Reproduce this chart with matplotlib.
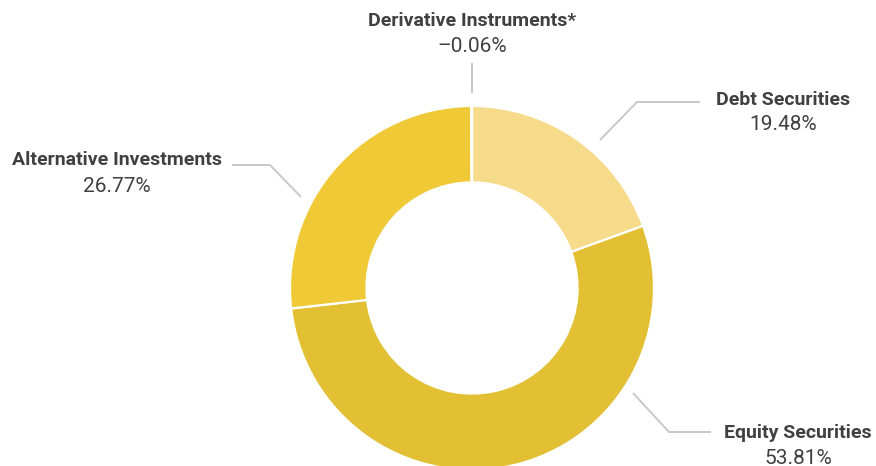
import matplotlib
matplotlib.use("Agg")
import matplotlib.pyplot as plt

# data
categories = ["Debt Securities", "Equity Securities", "Alternative Investments", "Derivative Instruments*"]
values = [19.48, 53.81, 26.77, -0.06]
value_labels = ["19.48%", "53.81%", "26.77%", "\u20130.06%"]
colors = ["#F6DB8B", "#E3BF33", "#F0C936", "#F0C936"]

# label layout in pixel coords (text centre x, title y, value y) and leader polylines
label_pos = [(783, 100, 125), (798, 433, 458), (117, 160, 186), (472, 21, 46)]
leaders = [
    [(600, 140), (637, 102), (700, 102)],
    [(633, 393), (669, 432), (711, 432)],
    [(301, 197), (270, 165), (232, 165)],
    [(472, 63), (472, 93)],
]

W, H = 876, 466
cx, cy, r = 472, 288, 182

fig = plt.figure(figsize=(W / 100, H / 100), dpi=100)

ax = fig.add_axes([(cx - r) / W, (H - cy - r) / H, 2 * r / W, 2 * r / H])
ax.pie([abs(v) for v in values], colors=colors, startangle=90, counterclock=False,
       radius=1, wedgeprops=dict(width=0.42, edgecolor="white", linewidth=1.6))
ax.set_xlim(-1, 1)
ax.set_ylim(-1, 1)
ax.set_aspect("equal")
ax.axis("off")

ov = fig.add_axes([0, 0, 1, 1])
ov.set_xlim(0, W)
ov.set_ylim(H, 0)
ov.axis("off")
ov.patch.set_alpha(0)

for pts in leaders:
    xs = [p[0] for p in pts]
    ys = [p[1] for p in pts]
    ov.plot(xs, ys, color="#c8c8c8", linewidth=1.4, solid_capstyle="butt")

for name, val, (x, y1, y2) in zip(categories, value_labels, label_pos):
    ov.text(x, y1, name, ha="center", va="center", fontsize=14, fontweight="semibold",
            family="Roboto", color="#404040")
    ov.text(x, y2, val, ha="center", va="center", fontsize=15, fontweight="normal",
            family="Roboto", color="#404040")

fig.savefig("out.png", dpi=100)
